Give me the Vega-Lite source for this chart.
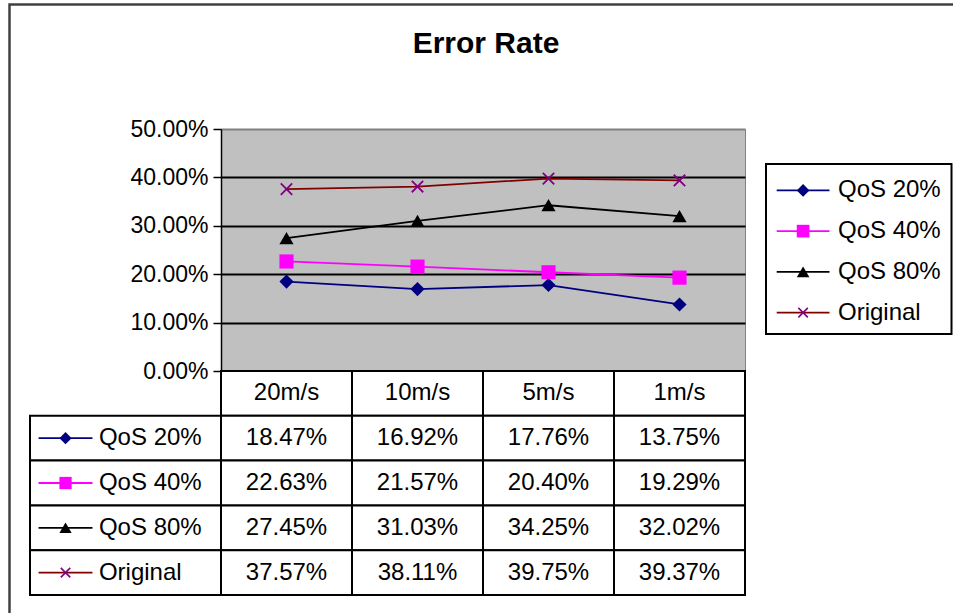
{
  "$schema": "https://vega.github.io/schema/vega-lite/v6.json",
  "width": 524,
  "height": 242,
  "autosize": {"type": "none"},
  "padding": {"left": 221, "top": 129, "right": 208, "bottom": 242},
  "background": "#FFFFFF",
  "config": {
    "view": {"fill": "#C0C0C0", "stroke": "#808080", "strokeWidth": 1},
    "font": "Liberation Sans",
    "text": {"font": "Liberation Sans", "fontSize": 24, "color": "#000000"},
    "axis": {"labelFont": "Liberation Sans"}
  },
  "datasets": {
    "rates": [
      {"series": "QoS 20%", "speed": "20m/s", "rate": 0.1847},
      {"series": "QoS 20%", "speed": "10m/s", "rate": 0.1692},
      {"series": "QoS 20%", "speed": "5m/s", "rate": 0.1776},
      {"series": "QoS 20%", "speed": "1m/s", "rate": 0.1375},
      {"series": "QoS 40%", "speed": "20m/s", "rate": 0.2263},
      {"series": "QoS 40%", "speed": "10m/s", "rate": 0.2157},
      {"series": "QoS 40%", "speed": "5m/s", "rate": 0.2040},
      {"series": "QoS 40%", "speed": "1m/s", "rate": 0.1929},
      {"series": "QoS 80%", "speed": "20m/s", "rate": 0.2745},
      {"series": "QoS 80%", "speed": "10m/s", "rate": 0.3103},
      {"series": "QoS 80%", "speed": "5m/s", "rate": 0.3425},
      {"series": "QoS 80%", "speed": "1m/s", "rate": 0.3202},
      {"series": "Original", "speed": "20m/s", "rate": 0.3757},
      {"series": "Original", "speed": "10m/s", "rate": 0.3811},
      {"series": "Original", "speed": "5m/s", "rate": 0.3975},
      {"series": "Original", "speed": "1m/s", "rate": 0.3937}
    ]
  },
  "data": {"name": "rates"},
  "resolve": {"scale": {"x": "independent", "y": "independent"}},
  "layer": [
    {
      "data": {"values": [{}]},
      "mark": {"type": "rect", "filled": false, "stroke": "#404040", "strokeWidth": 2.5},
      "encoding": {
        "x": {"datum": "frame", "type": "nominal", "scale": {"type": "band", "domain": ["frame"], "range": [-211.5, 760], "paddingInner": 0, "paddingOuter": 0}, "axis": null},
        "y": {"datum": "frame", "type": "nominal", "scale": {"type": "band", "domain": ["frame"], "range": [-124.5, 500], "paddingInner": 0, "paddingOuter": 0}, "axis": null}
      }
    },
    {
      "data": {"values": [{}]},
      "mark": {"type": "text", "text": "Error Rate", "fontSize": 30, "fontWeight": "bold", "align": "center", "baseline": "alphabetic"},
      "encoding": {
        "x": {"datum": "title", "type": "nominal", "scale": {"type": "band", "domain": ["title"], "range": [0, 530], "paddingInner": 0, "paddingOuter": 0}, "axis": null},
        "y": {"datum": "title", "type": "nominal", "scale": {"type": "band", "domain": ["title"], "range": [-87, -65], "paddingInner": 0, "paddingOuter": 0}, "axis": null}
      }
    },
    {
      "layer": [
        {
          "mark": {"type": "line", "strokeWidth": 1.8},
          "encoding": {
            "x": {"field": "speed", "type": "nominal", "scale": {"type": "point", "domain": ["20m/s", "10m/s", "5m/s", "1m/s"], "padding": 0.5}, "axis": null},
            "y": {"field": "rate", "type": "quantitative", "scale": {"domain": [0, 0.5]},
              "axis": {"orient": "left", "values": [0, 0.1, 0.2, 0.3, 0.4, 0.5], "format": ".2%", "title": null,
                "labelFontSize": 23, "labelColor": "#000000", "labelPadding": 5, "labelFlush": false, "labelOverlap": false,
                "tickSize": 8, "tickColor": "#000000", "tickWidth": 1.5,
                "domainColor": "#000000", "domainWidth": 1.5,
                "grid": true, "gridWidth": 1.8,
                "gridColor": {"condition": {"test": "datum.value >= 0.5", "value": "#808080"}, "value": "#000000"}}},
            "color": {"field": "series", "type": "nominal", "scale": {"domain": ["QoS 20%", "QoS 40%", "QoS 80%", "Original"], "range": ["#000080", "#FF00FF", "#000000", "#800000"]}, "legend": null},
            "order": {"value": null}
          }
        },
        {
          "transform": [{"filter": "datum.series != 'Original'"}],
          "mark": {"type": "point", "filled": true, "size": 200, "opacity": 1},
          "encoding": {
            "x": {"field": "speed", "type": "nominal"},
            "y": {"field": "rate", "type": "quantitative"},
            "color": {"field": "series", "type": "nominal", "legend": null},
            "shape": {"field": "series", "type": "nominal", "scale": {"domain": ["QoS 20%", "QoS 40%", "QoS 80%"], "range": ["diamond", "square", "triangle-up"]}, "legend": null}
          }
        },
        {
          "transform": [{"filter": "datum.series == 'Original'"}],
          "mark": {"type": "point", "filled": false, "shape": "M-1,-1L1,1M-1,1L1,-1", "size": 130, "stroke": "#800080", "strokeWidth": 1.8, "opacity": 1},
          "encoding": {
            "x": {"field": "speed", "type": "nominal"},
            "y": {"field": "rate", "type": "quantitative"}
          }
        }
      ]
    },
    {
      "layer": [
        {
          "transform": [{"filter": "datum.series == 'QoS 20%'"}],
          "mark": {"type": "rect", "fill": "#FFFFFF", "stroke": "#000000", "strokeWidth": 2},
          "encoding": {
            "x": {"field": "speed", "type": "nominal", "scale": {"type": "band", "domain": ["20m/s", "10m/s", "5m/s", "1m/s"], "paddingInner": 0, "paddingOuter": 0}, "axis": null},
            "y": {"datum": "hdr", "type": "nominal", "scale": {"type": "band", "domain": ["hdr", "QoS 20%", "QoS 40%", "QoS 80%", "Original"], "range": [242, 466], "paddingInner": 0, "paddingOuter": 0}, "axis": null}
          }
        },
        {
          "transform": [{"filter": "datum.series == 'QoS 20%'"}],
          "mark": {"type": "text", "fontSize": 24, "align": "center", "baseline": "middle"},
          "encoding": {
            "x": {"field": "speed", "type": "nominal", "bandPosition": 0.5},
            "y": {"datum": "hdr", "type": "nominal", "bandPosition": 0.5},
            "text": {"field": "speed"}
          }
        },
        {
          "mark": {"type": "rect", "fill": "#FFFFFF", "stroke": "#000000", "strokeWidth": 2},
          "encoding": {
            "x": {"field": "speed", "type": "nominal"},
            "y": {"field": "series", "type": "nominal"}
          }
        },
        {
          "mark": {"type": "text", "fontSize": 24, "align": "center", "baseline": "middle"},
          "encoding": {
            "x": {"field": "speed", "type": "nominal", "bandPosition": 0.5},
            "y": {"field": "series", "type": "nominal", "bandPosition": 0.5},
            "text": {"field": "rate", "type": "quantitative", "format": ".2%"}
          }
        }
      ]
    },
    {
      "transform": [{"filter": "datum.speed == '20m/s'"}],
      "layer": [
        {
          "mark": {"type": "rect", "fill": "#FFFFFF", "stroke": "#000000", "strokeWidth": 2},
          "encoding": {
            "x": {"datum": "key", "type": "nominal", "scale": {"type": "band", "domain": ["key"], "range": [-191, 0], "paddingInner": 0, "paddingOuter": 0}, "axis": null},
            "y": {"field": "series", "type": "nominal", "scale": {"type": "band", "domain": ["hdr", "QoS 20%", "QoS 40%", "QoS 80%", "Original"], "range": [242, 466], "paddingInner": 0, "paddingOuter": 0}, "axis": null}
          }
        },
        {
          "mark": {"type": "point", "filled": false, "shape": "M-4.9,0L4.9,0", "size": 121, "strokeWidth": 1.8, "opacity": 1},
          "encoding": {
            "x": {"datum": "key", "type": "nominal", "bandPosition": 0.186},
            "y": {"field": "series", "type": "nominal", "bandPosition": 0.5},
            "color": {"field": "series", "type": "nominal", "legend": null}
          }
        },
        {
          "transform": [{"filter": "datum.series != 'Original'"}],
          "mark": {"type": "point", "filled": true, "size": 150, "opacity": 1},
          "encoding": {
            "x": {"datum": "key", "type": "nominal", "bandPosition": 0.186},
            "y": {"field": "series", "type": "nominal", "bandPosition": 0.5},
            "color": {"field": "series", "type": "nominal", "legend": null},
            "shape": {"field": "series", "type": "nominal", "legend": null}
          }
        },
        {
          "transform": [{"filter": "datum.series == 'Original'"}],
          "mark": {"type": "point", "filled": false, "shape": "M-1,-1L1,1M-1,1L1,-1", "size": 90, "stroke": "#800080", "strokeWidth": 1.6, "opacity": 1},
          "encoding": {
            "x": {"datum": "key", "type": "nominal", "bandPosition": 0.186},
            "y": {"field": "series", "type": "nominal", "bandPosition": 0.5}
          }
        },
        {
          "mark": {"type": "text", "fontSize": 24, "align": "left", "baseline": "middle"},
          "encoding": {
            "x": {"datum": "key", "type": "nominal", "bandPosition": 0.361},
            "y": {"field": "series", "type": "nominal", "bandPosition": 0.5},
            "text": {"field": "series"}
          }
        }
      ]
    },
    {
      "data": {"values": [{}]},
      "mark": {"type": "rect", "fill": "#FFFFFF", "stroke": "#000000", "strokeWidth": 2},
      "encoding": {
        "x": {"datum": "box", "type": "nominal", "scale": {"type": "band", "domain": ["box"], "range": [545, 730.5], "paddingInner": 0, "paddingOuter": 0}, "axis": null},
        "y": {"datum": "box", "type": "nominal", "scale": {"type": "band", "domain": ["box"], "range": [35, 205], "paddingInner": 0, "paddingOuter": 0}, "axis": null}
      }
    },
    {
      "transform": [{"filter": "datum.speed == '20m/s'"}],
      "layer": [
        {
          "mark": {"type": "point", "filled": false, "shape": "M-4.8,0L4.8,0", "size": 121, "strokeWidth": 1.8, "opacity": 1},
          "encoding": {
            "x": {"datum": "leg", "type": "nominal", "bandPosition": 0.2, "scale": {"type": "band", "domain": ["leg"], "range": [545, 730.5], "paddingInner": 0, "paddingOuter": 0}, "axis": null},
            "y": {"field": "series", "type": "nominal", "bandPosition": 0.5, "scale": {"type": "band", "domain": ["QoS 20%", "QoS 40%", "QoS 80%", "Original"], "range": [41, 204], "paddingInner": 0, "paddingOuter": 0}, "axis": null},
            "color": {"field": "series", "type": "nominal", "legend": null}
          }
        },
        {
          "transform": [{"filter": "datum.series != 'Original'"}],
          "mark": {"type": "point", "filled": true, "size": 160, "opacity": 1},
          "encoding": {
            "x": {"datum": "leg", "type": "nominal", "bandPosition": 0.2},
            "y": {"field": "series", "type": "nominal", "bandPosition": 0.5},
            "color": {"field": "series", "type": "nominal", "legend": null},
            "shape": {"field": "series", "type": "nominal", "legend": null}
          }
        },
        {
          "transform": [{"filter": "datum.series == 'Original'"}],
          "mark": {"type": "point", "filled": false, "shape": "M-1,-1L1,1M-1,1L1,-1", "size": 90, "stroke": "#800080", "strokeWidth": 1.6, "opacity": 1},
          "encoding": {
            "x": {"datum": "leg", "type": "nominal", "bandPosition": 0.2},
            "y": {"field": "series", "type": "nominal", "bandPosition": 0.5}
          }
        },
        {
          "mark": {"type": "text", "fontSize": 24, "align": "left", "baseline": "middle"},
          "encoding": {
            "x": {"datum": "leg", "type": "nominal", "bandPosition": 0.388},
            "y": {"field": "series", "type": "nominal", "bandPosition": 0.5},
            "text": {"field": "series"}
          }
        }
      ]
    }
  ]
}
